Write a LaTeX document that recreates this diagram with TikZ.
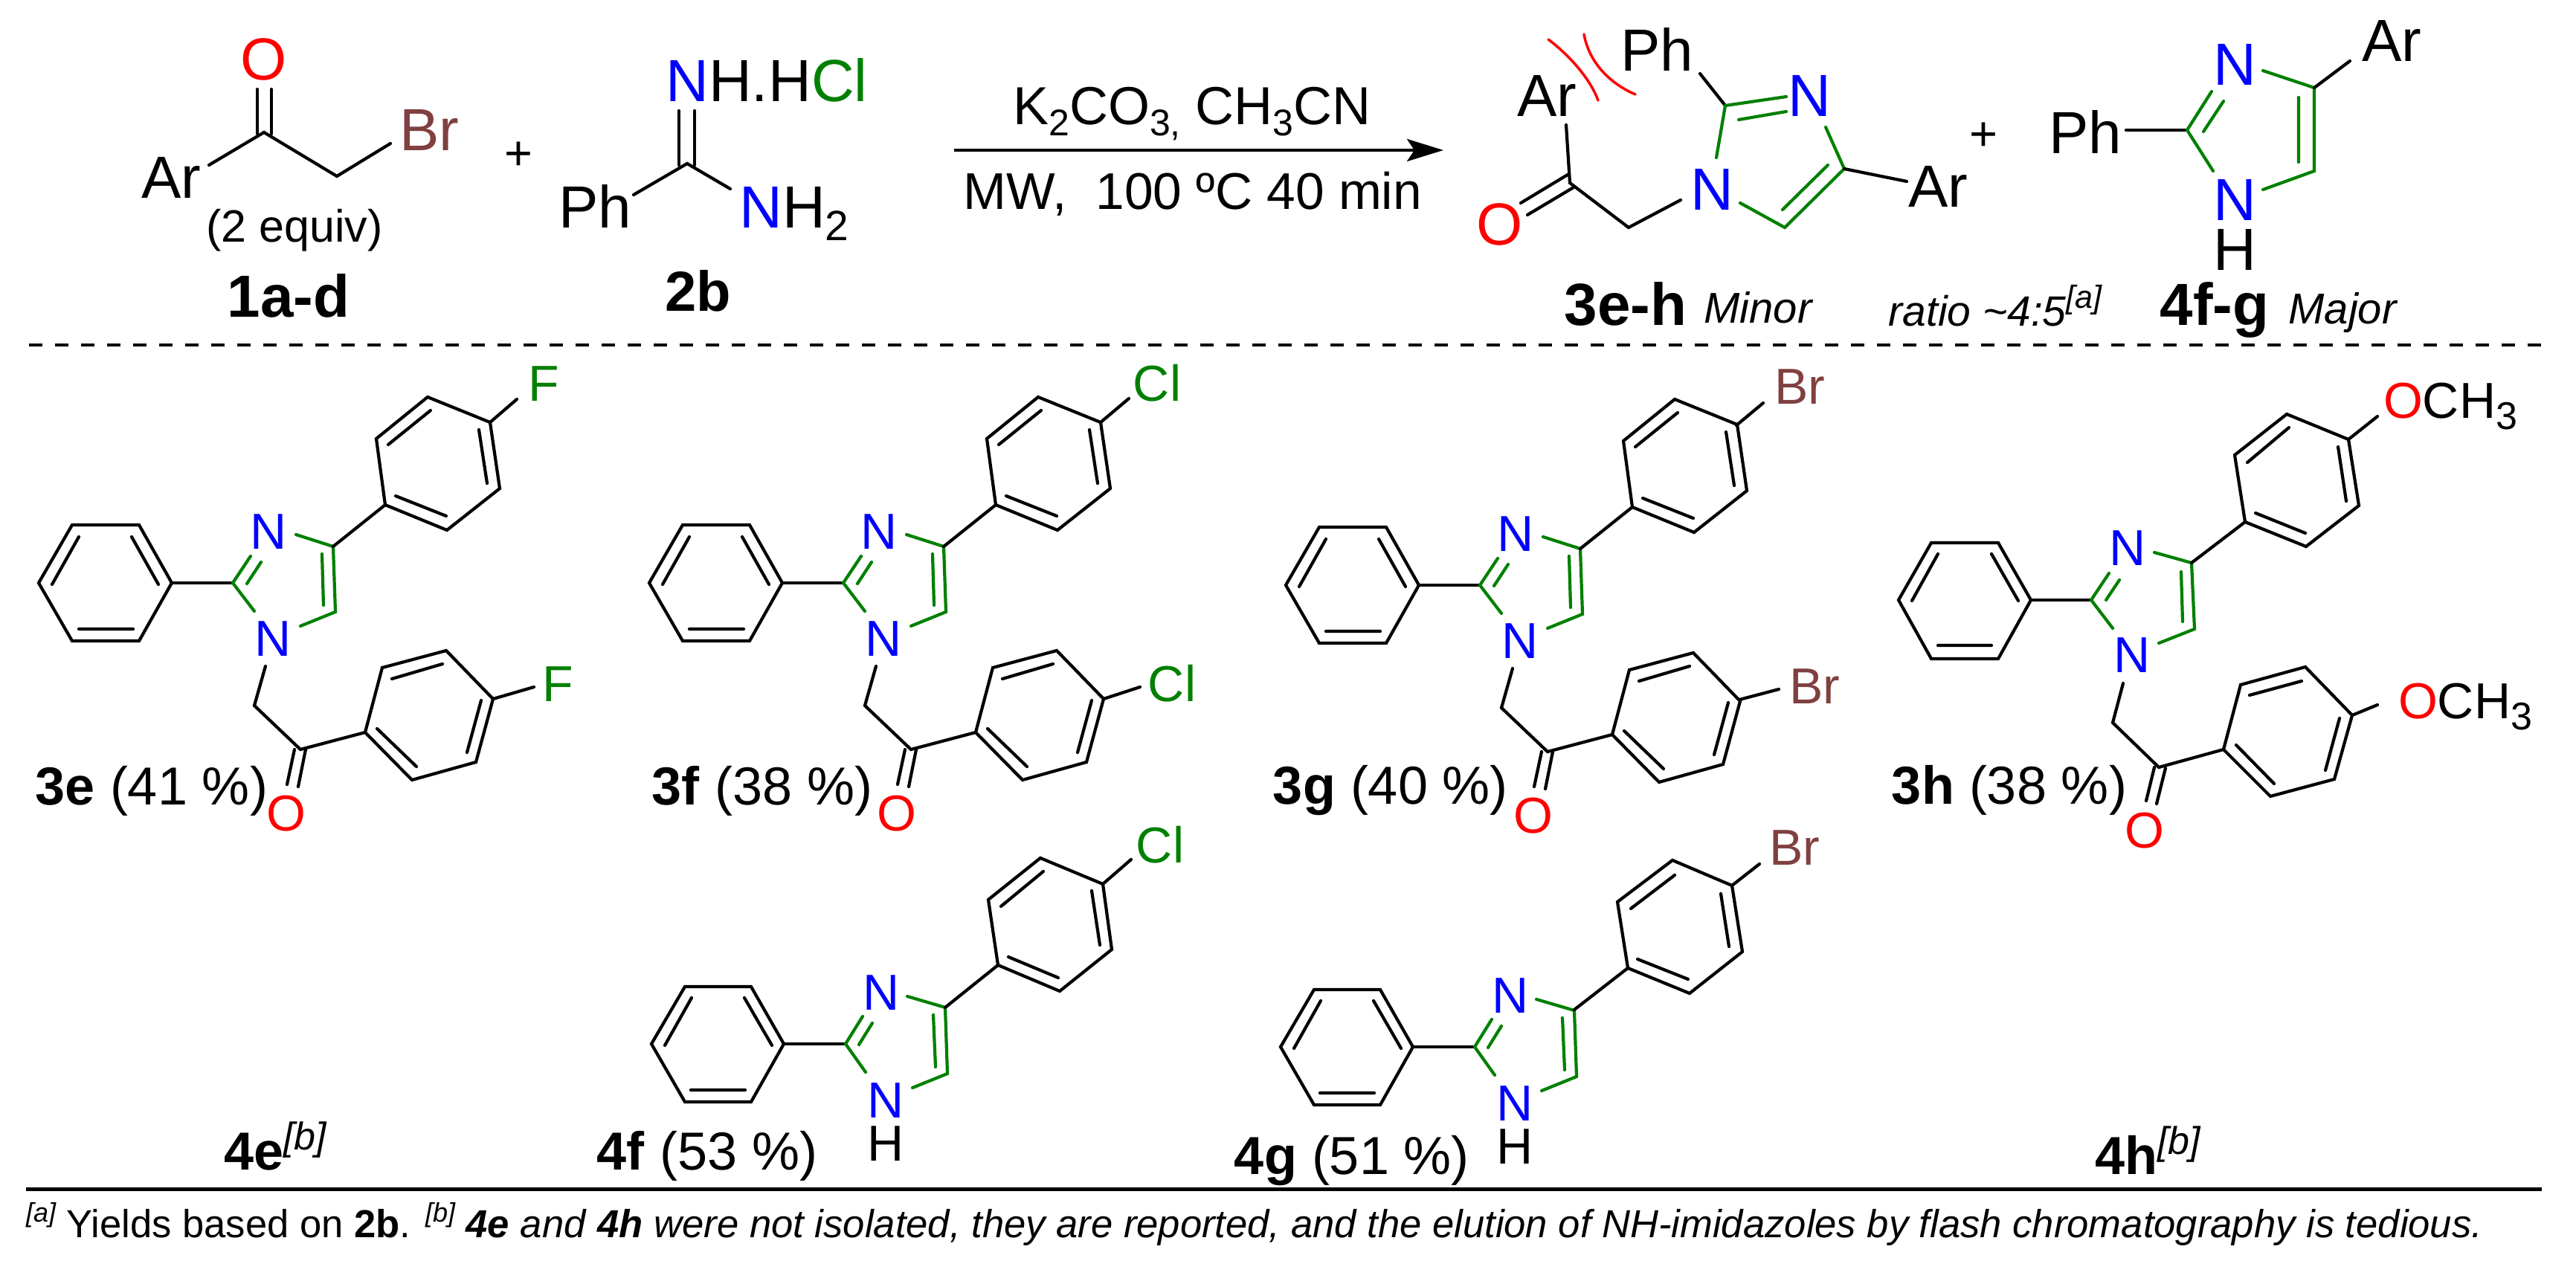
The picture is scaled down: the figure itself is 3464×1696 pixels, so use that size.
\documentclass[tikz,border=0pt]{standalone}
\usepackage{fontspec}
\setmainfont{Liberation Sans}
\usetikzlibrary{arrows.meta}
\definecolor{grn}{HTML}{008000}
\definecolor{blu}{HTML}{0000FF}
\definecolor{brw}{HTML}{804040}
\definecolor{rdd}{HTML}{FF0000}
\newcommand\fsz[1]{\fontsize{#1}{#1}\selectfont}
\newcommand\lowered[3]{\raisebox{-#1pt}{\fsz{#2}#3}}
\newcommand\supb[1]{\raisebox{27pt}{\fsz{52}\itshape[#1]}}
\tikzset{
  lab/.style={inner sep=0pt,outer sep=0pt,anchor=base},
  big/.style={lab,font=\fsz{80}},
  mid/.style={lab,font=\fsz{68}},
  yld/.style={lab,font=\fsz{72}},
  bond/.style={line width=4.2pt,line cap=round,draw=black},
  gbond/.style={bond,draw=grn},
  rarc/.style={line width=3.5pt,line cap=round,draw=rdd}
}
% 3e-type skeleton, drawn at the coordinates of 3e
\newcommand\skelthree[1]{%
  \draw[bond] (97,706)--(187,706)--(231,784)--(187,862)--(97,862)--(52,784)--cycle;
  \draw[bond] (106,722)--(70,786) (177,722)--(213,786) (106,846)--(179,846);
  \draw[bond] (231,784)--(313,784);
  \draw[gbond] (337,748)--(313,784)--(342,822) (332,785)--(351,756);
  \draw[gbond] (398,719)--(448,735)--(451,823)--(404,842) (433,745)--(435,814);
  \draw[bond] (448,735)--(518,679);
  \draw[bond] (518,679)--(506,590)--(575,534)--(659,568)--(672,657)--(601,713)--cycle;
  \draw[bond] (522,598)--(579,552) (644,578)--(655,650) (532,667)--(600,694);
  \draw[bond] (357,896)--(342,949)--(404,1008)--(491,985);
  \draw[bond] (396,1008)--(386,1055) (411,1008)--(401,1058);
  \draw[bond] (491,985)--(514,898)--(600,875)--(663,940)--(640,1025)--(554,1049)--cycle;
  \draw[bond] (527,913)--(595,893) (647,942)--(628,1012) (507,980)--(560,1031);
  \node[mid,text=blu] (#1n3) at (361.5,738) {N};
  \node[mid,text=blu] (#1n1) at (367.5,882) {N};
  \node[mid,text=rdd] (#1o) at (385,1117) {O};
}
% 4f-type skeleton, drawn at the coordinates of 4f
\newcommand\skelfour[1]{%
  \draw[bond] (921,1327)--(1010,1327)--(1054,1404)--(1010,1482)--(921,1482)--(876,1404)--cycle;
  \draw[bond] (930,1342)--(894,1406) (1001,1342)--(1038,1406) (929,1466)--(1002,1466);
  \draw[bond] (1054,1404)--(1137,1404);
  \draw[gbond] (1160,1367)--(1137,1404)--(1164,1442) (1155,1405)--(1173,1376);
  \draw[gbond] (1220,1340)--(1271,1355)--(1274,1444)--(1227,1463) (1255,1365)--(1258,1435);
  \node[mid,text=blu] (#1n3) at (1185.5,1358) {N};
  \node[mid,text=blu] (#1n1) at (1191,1503) {N};
  \node[mid] (#1h) at (1191,1561) {H};
}
\begin{document}
\begin{tikzpicture}[x=1pt,y=-1pt]
\useasboundingbox (0,0) rectangle (3464,1696);
\fill[white] (0,0) rectangle (3464,1696);

% --- 1a-d
\draw[bond] (346,120)--(346,180) (365,120)--(365,180);
\draw[bond] (281,222)--(355,178)--(453,237)--(525,193);
\node[big,text=rdd] (o1) at (355,108) {O};
\node[big,text=brw] (br1) at (577,203) {Br};
\node[big] (ar1) at (230,267) {Ar};
\node[lab,font=\fsz{61}] (eq) at (396,325) {(2 equiv)};
\node[big,font=\fsz{80}\bfseries] (l1) at (388,426) {1a-d};
\node[lab,font=\fsz{65}] (p1) at (697,229) {+};

% --- 2b
\draw[bond] (913,149)--(913,222) (934,149)--(934,222);
\draw[bond] (852,262)--(924,220)--(982,254);
\node[big] (am) at (1031,137) {\textcolor{blu}{N}H.H\textcolor{grn}{Cl}};
\node[big] (ph2) at (800,307) {Ph};
\node[big] (nh2) at (1068,307) {\textcolor{blu}{N}H\lowered{17}{57}{2}};
\node[lab,font=\fsz{76}\bfseries] (l2) at (939,418) {2b};

% --- arrow
\coordinate (as) at (1283,202);
\coordinate (ae) at (1941,202);
\draw[line width=4pt,-{Stealth[length=49pt,width=30pt,inset=10pt]}] (as)--(ae);
\node[lab,font=\fsz{72}] (r1) at (1603,168) {K\lowered{15}{50}{2}CO\lowered{15}{50}{3,} CH\lowered{15}{50}{3}CN};
\node[lab,font=\fsz{69.5}] (r2) at (1604,282) {MW,\ \ 100 ºC 40 min};

% --- 3e-h
\draw[bond] (2106,168)--(2111,246)--(2190,306)--(2260,269);
\draw[bond] (2108,235)--(2045,273) (2116,252)--(2054,289);
\draw[bond] (2286,99)--(2320,142);
\draw[gbond] (2320,142)--(2402,130) (2338,161)--(2402,150);
\draw[gbond] (2320,142)--(2308,212);
\draw[gbond] (2455,171)--(2480,227)--(2400,306)--(2340,273) (2458,222)--(2397,282);
\draw[bond] (2480,227)--(2564,244);
\draw[rarc] (2082,53) .. controls (2115,78) and (2140,110) .. (2149,135);
\draw[rarc] (2130,46) .. controls (2136,80) and (2160,110) .. (2199,127);
\node[big] (ph3) at (2228,96) {Ph};
\node[big] (ar3) at (2080,157) {Ar};
\node[big,text=blu] (n33) at (2433,157) {N};
\node[big,text=blu] (n31) at (2302,283) {N};
\node[big,text=rdd] (o3) at (2017,329) {O};
\node[big] (ar3b) at (2606,279) {Ar};
\node[lab,font=\fsz{65}] (p2) at (2667,203) {+};

% --- 4f-g
\draw[bond] (2859,175)--(2941,175);
\draw[gbond] (2974,123)--(2941,175)--(2976,230) (2963,177)--(2990,136);
\draw[gbond] (3043,95)--(3112,118)--(3112,230)--(3043,255) (3091,131)--(3091,218);
\draw[bond] (3112,118)--(3160,82);
\node[big] (ph4) at (2804,207) {Ph};
\node[big,text=blu] (n43) at (3005,115) {N};
\node[big] (ar4) at (3216,83) {Ar};
\node[big,text=blu] (n41) at (3005,297) {N};
\node[big] (h4) at (3005,363) {H};

% --- header labels
\node[big,font=\fsz{80}\bfseries] (l3) at (2186,437) {3e-h};
\node[lab,font=\fsz{58}\itshape] (mi) at (2364,434) {Minor};
\node[lab,font=\fsz{57}\itshape] (ra) at (2683,438) {ratio \textasciitilde 4:5\raisebox{24pt}{\fsz{43}[a]}};
\node[big,font=\fsz{80}\bfseries] (l4) at (2978,437) {4f-g};
\node[lab,font=\fsz{58}\itshape] (ma) at (3150,435) {Major};
\draw[line width=4pt,dash pattern=on 18pt off 17pt] (39,464)--(3420,464);

% --- 3e
\begin{scope}\skelthree{a}\end{scope}
\draw[bond] (659,568)--(695,537) (663,940)--(718,924);
\node[mid,text=grn] (fa1) at (731,539) {F};
\node[mid,text=grn] (fa2) at (750,943) {F};
\node[yld] (la) at (204,1082) {\textbf{3e} (41 \%)};

% --- 3f
\begin{scope}[shift={(821,0)}]\skelthree{b}\end{scope}
\draw[bond] (1480,568)--(1518,536) (1484,940)--(1533,924);
\node[mid,text=grn] (fb1) at (1556,539) {Cl};
\node[mid,text=grn] (fb2) at (1576,943) {Cl};
\node[yld] (lb) at (1025,1082) {\textbf{3f} (38 \%)};

% --- 3g
\begin{scope}[shift={(1677,3)}]\skelthree{c}\end{scope}
\draw[bond] (2335,572)--(2371,542) (2339,941)--(2392,927);
\node[mid,text=brw] (fc1) at (2420,543) {Br};
\node[mid,text=brw] (fc2) at (2440,946) {Br};
\node[yld] (lc) at (1870,1081) {\textbf{3g} (40 \%)};

% --- 3h
\draw[bond] (2597,730)--(2687,730)--(2731,807)--(2687,886)--(2597,886)--(2553,807)--cycle;
\draw[bond] (2606,745)--(2571,808) (2678,745)--(2714,808) (2606,868)--(2678,868);
\draw[bond] (2731,807)--(2812,807);
\draw[gbond] (2836,771)--(2812,807)--(2841,845) (2832,807)--(2850,780);
\draw[gbond] (2897,743)--(2947,757)--(2951,846)--(2903,865) (2933,769)--(2935,836);
\draw[bond] (2947,757)--(3019,702);
\draw[bond] (3019,702)--(3005,612)--(3075,557)--(3158,591)--(3172,680)--(3101,735)--cycle;
\draw[bond] (3022,622)--(3078,575) (3144,601)--(3155,674) (3033,690)--(3100,717);
\draw[bond] (3158,591)--(3197,560);
\draw[bond] (2855,919)--(2841,972)--(2903,1032)--(2990,1008);
\draw[bond] (2897,1032)--(2886,1077) (2912,1033)--(2900,1081);
\draw[bond] (2990,1008)--(3013,921)--(3100,897)--(3163,962)--(3139,1048)--(3053,1071)--cycle;
\draw[bond] (3025,935)--(3095,916) (3146,966)--(3127,1036) (3007,1002)--(3058,1054);
\draw[bond] (3163,962)--(3197,948);
\node[mid,text=blu] (dn3) at (2861,760.5) {N};
\node[mid,text=blu] (dn1) at (2867,904.5) {N};
\node[mid,text=rdd] (do) at (2884,1140) {O};
\node[mid] (om1) at (3295,562) {\textcolor{rdd}{O}CH\lowered{15}{52}{3}};
\node[mid] (om2) at (3315,966) {\textcolor{rdd}{O}CH\lowered{15}{52}{3}};
\node[yld] (ld) at (2702,1081) {\textbf{3h} (38 \%)};

% --- 4f
\begin{scope}\skelfour{e}\end{scope}
\draw[bond] (1271,1355)--(1342,1298);
\draw[bond] (1342,1298)--(1329,1210)--(1399,1154)--(1483,1189)--(1495,1277)--(1425,1333)--cycle;
\draw[bond] (1346,1219)--(1403,1172) (1468,1198)--(1479,1271) (1356,1287)--(1423,1315);
\draw[bond] (1483,1189)--(1521,1156);
\node[mid,text=grn] (cl4) at (1560,1160) {Cl};
\node[yld] (lf) at (951,1573) {\textbf{4f} (53 \%)};

% --- 4g
\begin{scope}[shift={(846,4)}]\skelfour{f}\end{scope}
\draw[bond] (2117,1358)--(2189,1302);
\draw[bond] (2189,1302)--(2175,1213)--(2249,1157)--(2329,1191)--(2343,1280)--(2272,1336)--cycle;
\draw[bond] (2193,1222)--(2252,1177) (2314,1202)--(2325,1273) (2202,1290)--(2270,1317);
\draw[bond] (2329,1191)--(2366,1162);
\node[mid,text=brw] (br4) at (2413,1163) {Br};
\node[yld] (lg) at (1818,1579) {\textbf{4g} (51 \%)};

% --- 4e, 4h
\node[yld] (le) at (370,1573) {\textbf{4e}\supb{b}};
\node[yld] (lh) at (2888,1579) {\textbf{4h}\supb{b}};

% --- footnote
\draw[line width=5pt] (35,1599)--(3418,1599);
\node[lab,anchor=base west,font=\fsz{52.6}] (fn) at (35,1664) {\raisebox{21pt}{\fsz{36}\itshape[a]} Yields based on \textbf{2b}. \raisebox{21pt}{\fsz{36}\itshape[b]} \textbf{\textit{4e}} \textit{and} \textbf{\textit{4h}} \textit{were not isolated, they are reported, and the elution of NH-imidazoles by flash chromatography is tedious.}};
\end{tikzpicture}
\end{document}
